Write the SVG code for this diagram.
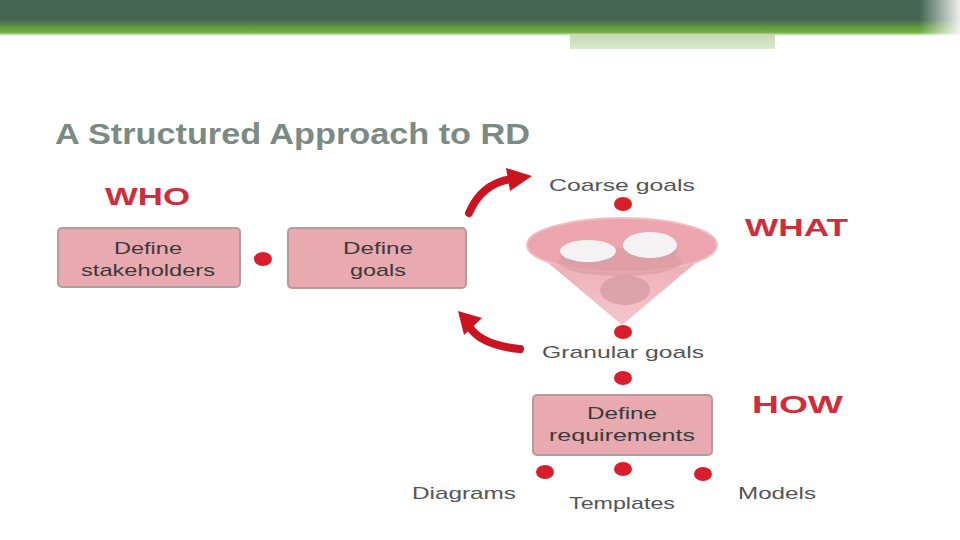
<svg xmlns="http://www.w3.org/2000/svg" width="960" height="540" viewBox="0 0 960 540">
<defs>
<linearGradient id="bar" x1="0" y1="0" x2="0" y2="1">
<stop offset="0" stop-color="#466654"/>
<stop offset="0.55" stop-color="#466654"/>
<stop offset="0.75" stop-color="#5f9a3e"/>
<stop offset="0.9" stop-color="#72b043"/>
<stop offset="1" stop-color="#72b043" stop-opacity="0"/>
</linearGradient>
<linearGradient id="pale" x1="0" y1="0" x2="0" y2="1">
<stop offset="0" stop-color="#c4d9ae"/>
<stop offset="1" stop-color="#dce9cf"/>
</linearGradient>
<linearGradient id="fadeR" x1="0" y1="0" x2="1" y2="0">
<stop offset="0" stop-color="#ffffff" stop-opacity="0"/>
<stop offset="1" stop-color="#ffffff" stop-opacity="0.9"/>
</linearGradient>
<linearGradient id="funnel" x1="0" y1="0" x2="0" y2="1">
<stop offset="0" stop-color="#eba9b2"/>
<stop offset="1" stop-color="#f4c6cc"/>
</linearGradient>
<style>
.box{fill:#e8a9b0;stroke:#b79a9c;stroke-width:2}
.bt{font-family:"Liberation Sans",Arial,sans-serif;font-size:17px;fill:#3a3a3a;text-anchor:middle}
.lbl{font-family:"Liberation Sans",Arial,sans-serif;font-size:17px;fill:#555555;text-anchor:middle}
.tag{font-family:"Liberation Sans",Arial,sans-serif;font-size:23px;font-weight:bold;fill:#cf2d3d}
.dot{fill:#d81e2a}
.curve{fill:none;stroke:#cc1421;stroke-width:8;stroke-linecap:round}
.head{fill:#cc1421}
</style>
</defs>
<rect x="0" y="0" width="960" height="36" fill="url(#bar)"/>
<rect x="570" y="34" width="205" height="15" fill="url(#pale)"/>
<rect x="920" y="0" width="40" height="50" fill="url(#fadeR)"/>
<text x="55" y="144" font-family="Liberation Sans,Arial,sans-serif" font-size="30" font-weight="bold" fill="#7b8a82" textLength="475" lengthAdjust="spacingAndGlyphs">A Structured Approach to RD</text>
<text class="tag" x="105" y="205" textLength="85" lengthAdjust="spacingAndGlyphs">WHO</text>
<text class="tag" x="745" y="236" textLength="103" lengthAdjust="spacingAndGlyphs">WHAT</text>
<text class="tag" x="752" y="413" textLength="91" lengthAdjust="spacingAndGlyphs">HOW</text>
<g id="define-stakeholders">
<rect class="box" x="58" y="228" width="182" height="59" rx="4"/>
<text class="bt" x="148" y="254" textLength="68" lengthAdjust="spacingAndGlyphs">Define</text>
<text class="bt" x="148" y="276" textLength="134" lengthAdjust="spacingAndGlyphs">stakeholders</text>
</g>
<g id="define-goals">
<rect class="box" x="288" y="228" width="178" height="60" rx="4"/>
<text class="bt" x="378" y="254" textLength="70" lengthAdjust="spacingAndGlyphs">Define</text>
<text class="bt" x="378" y="276" textLength="56" lengthAdjust="spacingAndGlyphs">goals</text>
</g>
<g id="coarse-goals">
<text class="lbl" x="622" y="191" textLength="146" lengthAdjust="spacingAndGlyphs">Coarse goals</text>
</g>
<g id="funnel-node">
<path d="M527 245 L622 325 L717 245 Z" fill="url(#funnel)"/>
<ellipse cx="622" cy="245" rx="95" ry="27" fill="#eca5ae" stroke="#f1bcc2" stroke-width="2"/>
<ellipse cx="620" cy="262" rx="62" ry="14" fill="#d99aa2" opacity="0.6"/>
<ellipse cx="625" cy="290" rx="25" ry="15" fill="#d799a1" opacity="0.75"/>
<ellipse cx="588" cy="256" rx="28" ry="10" fill="#d9a0a7"/>
<ellipse cx="588" cy="251" rx="28" ry="11" fill="#f4f2f2"/>
<ellipse cx="650" cy="251" rx="27" ry="11" fill="#d9a0a7"/>
<ellipse cx="650" cy="245" rx="27" ry="13" fill="#f4f2f2"/>
</g>
<g id="granular-goals">
<text class="lbl" x="623" y="358" textLength="162" lengthAdjust="spacingAndGlyphs">Granular goals</text>
</g>
<g id="define-requirements">
<rect class="box" x="533" y="395" width="179" height="60" rx="4"/>
<text class="bt" x="622" y="419" textLength="70" lengthAdjust="spacingAndGlyphs">Define</text>
<text class="bt" x="622" y="441" textLength="146" lengthAdjust="spacingAndGlyphs">requirements</text>
</g>
<g id="diagrams"><text class="lbl" x="464" y="499" textLength="104" lengthAdjust="spacingAndGlyphs">Diagrams</text></g>
<g id="templates"><text class="lbl" x="622" y="509" textLength="106" lengthAdjust="spacingAndGlyphs">Templates</text></g>
<g id="models"><text class="lbl" x="777" y="499" textLength="78" lengthAdjust="spacingAndGlyphs">Models</text></g>
<g id="connectors">
<ellipse class="dot" cx="263" cy="259" rx="9" ry="7"/>
<ellipse class="dot" cx="623" cy="204" rx="9" ry="7"/>
<ellipse class="dot" cx="623" cy="332" rx="9" ry="7"/>
<ellipse class="dot" cx="623" cy="378" rx="9" ry="7"/>
<ellipse class="dot" cx="545" cy="472" rx="9" ry="7"/>
<ellipse class="dot" cx="623" cy="469" rx="9" ry="7"/>
<ellipse class="dot" cx="703" cy="474" rx="9" ry="7"/>
<path class="curve" d="M469 213 Q482 183 512 179"/>
<polygon class="head" points="506,168 532,176 510,191"/>
<path class="curve" d="M520 349 Q480 345 469 326"/>
<polygon class="head" points="458,311 482,318 464,335"/>
</g>
</svg>
